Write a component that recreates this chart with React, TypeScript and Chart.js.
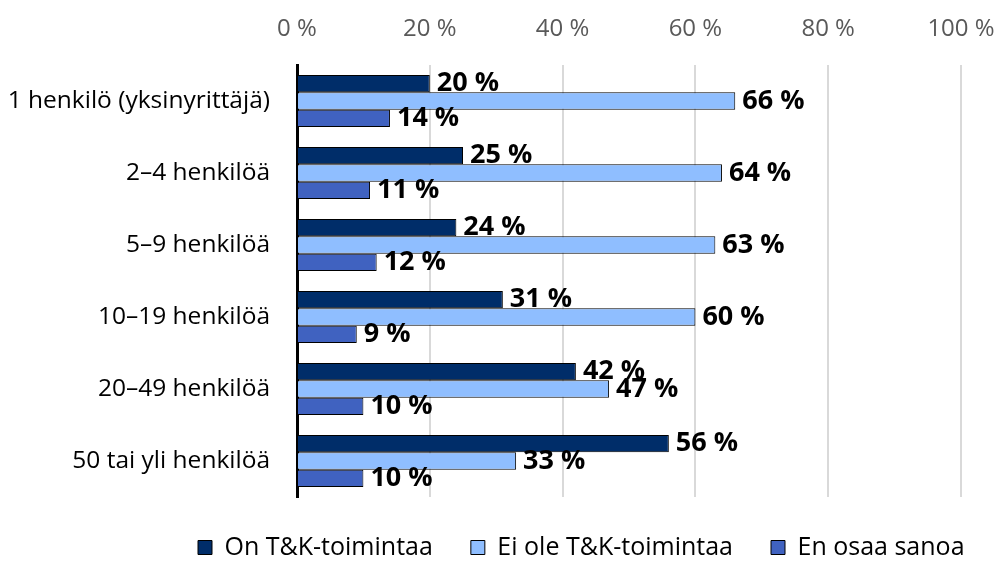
import React, { useEffect, useRef } from 'react';
import { Chart, registerables } from 'chart.js';

Chart.register(...registerables);

const categories = [
  '1 henkilö (yksinyrittäjä)',
  '2–4 henkilöä',
  '5–9 henkilöä',
  '10–19 henkilöä',
  '20–49 henkilöä',
  '50 tai yli henkilöä',
];
const seriesNames = ['On T&K-toimintaa', 'Ei ole T&K-toimintaa', 'En osaa sanoa'];
const onTK = [20, 25, 24, 31, 42, 56];
const eiOleTK = [66, 64, 63, 60, 47, 33];
const enOsaa = [14, 11, 12, 9, 10, 10];
const xTicks = [0, 20, 40, 60, 80, 100];

const FONT = '"Open Sans", "Noto Sans", sans-serif';
const LEGEND_PADDING = 38;

const legendHeightPlugin = {
  id: 'legendHeight',
  beforeInit(chart: any) {
    const legend = chart.legend;
    if (!legend) return;
    const origFit = legend.fit;
    legend.fit = function () {
      origFit.call(this);
      this.height = 65;
    };
  },
  afterLayout(chart: any) {
    const legend = chart.legend;
    if (!legend) return;
    legend.left = 198 - LEGEND_PADDING;
    legend.right = 1400;
  },
};

const valueLabelPlugin = {
  id: 'valueLabels',
  afterDatasetsDraw(chart: any) {
    const ctx = chart.ctx;
    ctx.save();
    ctx.font = `bold 27px ${FONT}`;
    ctx.fillStyle = '#000';
    ctx.textAlign = 'left';
    ctx.textBaseline = 'middle';
    chart.data.datasets.forEach((ds: any, di: number) => {
      const meta = chart.getDatasetMeta(di);
      meta.data.forEach((bar: any, i: number) => {
        ctx.fillText(`${ds.data[i]} %`, bar.x + 7, bar.y);
      });
    });
    ctx.restore();
  },
};

export default function App() {
  const ref = useRef<HTMLCanvasElement>(null);
  useEffect(() => {
    if (!ref.current) return;
    const chart = new Chart(ref.current, {
      type: 'bar',
      data: {
        labels: categories,
        datasets: [
          { label: seriesNames[0], data: onTK, backgroundColor: '#002D69', borderColor: '#000', borderWidth: 1 },
          { label: seriesNames[1], data: eiOleTK, backgroundColor: '#8FBEFF', borderColor: '#000', borderWidth: 1 },
          { label: seriesNames[2], data: enOsaa, backgroundColor: '#4062C0', borderColor: '#000', borderWidth: 1 },
        ],
      },
      options: {
        indexAxis: 'y',
        animation: false,
        responsive: false,
        layout: { padding: { left: 0, right: 36, top: 0, bottom: 0 } },
        datasets: { bar: { categoryPercentage: 0.72, barPercentage: 1 } },
        scales: {
          x: {
            position: 'top',
            min: 0,
            max: 100,
            afterBuildTicks: (s: any) => { s.ticks = xTicks.map((v) => ({ value: v })); },
            afterFit: (s: any) => { s.height = 65; s.paddingRight = 0; s.paddingLeft = 0; },
            ticks: {
              callback: (v: any) => `${v} %`,
              color: '#595959',
              font: { family: FONT, size: 24 },
              padding: 21,
            },
            grid: { color: '#d9d9d9', lineWidth: 2, drawTicks: false },
            border: { display: false },
          },
          y: {
            afterFit: (s: any) => { s.width = 297; },
            ticks: {
              color: '#000',
              font: { family: FONT, size: 24.5 },
              padding: 19,
            },
            grid: { display: false },
            border: { color: '#000', width: 3 },
          },
        },
        plugins: {
          legend: {
            position: 'bottom',
            align: 'start',
            labels: {
              boxWidth: 14,
              boxHeight: 14,
              color: '#000',
              font: { family: FONT, size: 25 },
              padding: LEGEND_PADDING,
            },
          },
          tooltip: { enabled: false },
        },
      },
      plugins: [legendHeightPlugin, valueLabelPlugin],
    } as any);
    return () => chart.destroy();
  }, []);
  return (
    <div style={{ position: 'fixed', left: 0, top: 0, width: 997, height: 562, background: '#fff' }}>
      <canvas ref={ref} width={997} height={562} />
    </div>
  );
}
